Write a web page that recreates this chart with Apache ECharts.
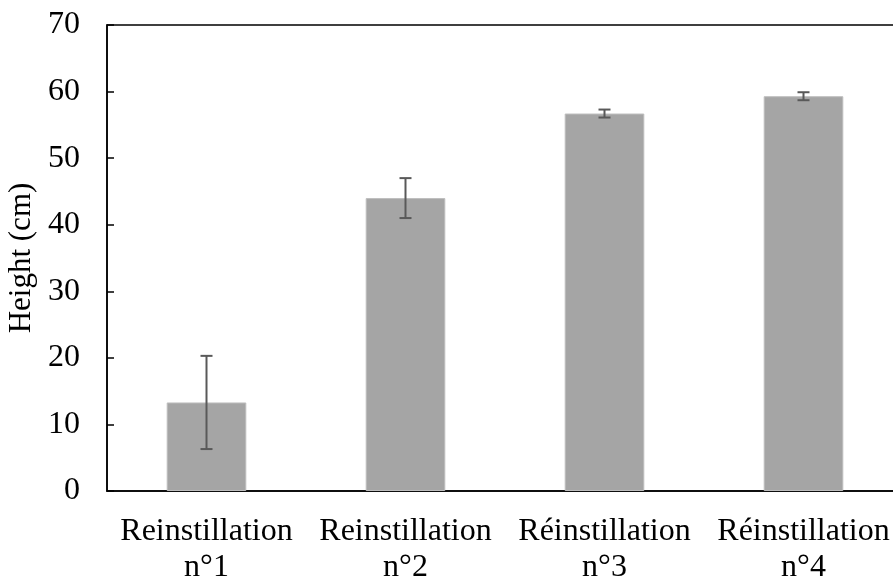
<!DOCTYPE html>
<html><head><meta charset="utf-8">
<script src="https://cdn.jsdelivr.net/npm/echarts@6/dist/echarts.min.js"></script>
<style>html,body{margin:0;padding:0;background:#fff}#c{width:893px;height:579px}</style>
</head><body><div id="c"></div>
<script>
var categories = ['Reinstillation\nn°1', 'Reinstillation\nn°2', 'Réinstillation\nn°3', 'Réinstillation\nn°4'];
var heights = [13.3, 44.0, 56.7, 59.3];
var errors = [7.0, 3.0, 0.6, 0.6];
var yTicks = [0, 10, 20, 30, 40, 50, 60, 70];

var chart = echarts.init(document.getElementById('c'), null, {renderer: 'canvas'});
var font = '"Liberation Serif", "Times New Roman", serif';
var errData = heights.map(function (h, i) { return [i, h - errors[i], h + errors[i]]; });

chart.setOption({
  animation: false,
  backgroundColor: '#fff',
  grid: {left: 107, top: 25, width: 796, height: 466, show: true, borderColor: '#000', borderWidth: 1.5,
         backgroundColor: 'transparent', containLabel: false, outerBoundsMode: 'none'},
  xAxis: {
    type: 'category', data: categories,
    axisLine: {lineStyle: {color: '#000', width: 1.5}},
    axisTick: {inside: true, length: 6, lineStyle: {color: '#000', width: 1.5}, alignWithLabel: false},
    axisLabel: {color: '#000', fontFamily: font, fontSize: 32, lineHeight: 36, margin: 23, interval: 0}
  },
  yAxis: {
    type: 'value', min: yTicks[0], max: yTicks[yTicks.length - 1], interval: 10,
    name: 'Height (cm)', nameLocation: 'middle', nameGap: 67, nameRotate: 90,
    nameTextStyle: {color: '#000', fontFamily: font, fontSize: 31},
    axisLine: {show: true, lineStyle: {color: '#000', width: 1.5}},
    axisTick: {show: true, inside: true, length: 7, lineStyle: {color: '#000', width: 1.5}},
    splitLine: {show: false},
    axisLabel: {color: '#000', fontFamily: font, fontSize: 32, margin: 27}
  },
  series: [
    {
      type: 'bar', data: heights, barWidth: '40%',
      itemStyle: {color: '#a5a5a5', borderColor: '#bdbdbd', borderWidth: 1}
    },
    {
      type: 'custom', data: errData, z: 10,
      renderItem: function (params, api) {
        var x = api.value(0);
        var lo = api.coord([x, api.value(1)]);
        var hi = api.coord([x, api.value(2)]);
        var hw = 6;
        var st = {stroke: '#595959', lineWidth: 2};
        return {type: 'group', children: [
          {type: 'line', shape: {x1: hi[0], y1: hi[1], x2: lo[0], y2: lo[1]}, style: st},
          {type: 'line', shape: {x1: hi[0] - hw, y1: hi[1], x2: hi[0] + hw, y2: hi[1]}, style: st},
          {type: 'line', shape: {x1: lo[0] - hw, y1: lo[1], x2: lo[0] + hw, y2: lo[1]}, style: st}
        ]};
      }
    }
  ]
});
</script></body></html>
